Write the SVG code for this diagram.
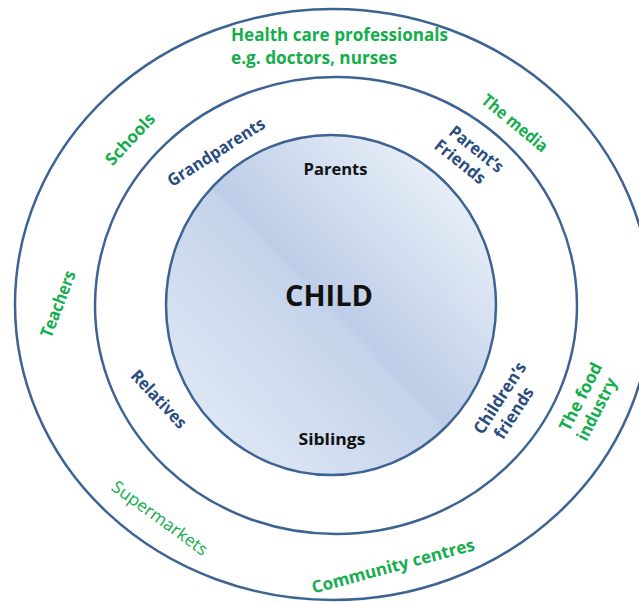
<svg xmlns="http://www.w3.org/2000/svg" width="639" height="604" viewBox="0 0 639 604">
  <defs>
    <linearGradient id="childFill" x1="0.15" y1="0.85" x2="0.85" y2="0.15">
      <stop offset="0" stop-color="#dce5f3"/>
      <stop offset="0.48" stop-color="#c4d3ea"/>
      <stop offset="0.5" stop-color="#bdcde7"/>
      <stop offset="1" stop-color="#e6edf7"/>
    </linearGradient>
    <style>
      .ring { fill: none; stroke: #3d6393; stroke-width: 2.5; }
      .t { font-family: "Open Sans", "Liberation Sans", sans-serif; font-weight: 700; }
      .r { font-weight: 400; }
      .g { fill: #14ae4c; font-size: 17px; }
      .b { fill: #2b4c7e; font-size: 17px; }
      .k { fill: #111111; font-size: 16px; }
      .c { text-anchor: middle; }
    </style>
  </defs>
  <rect width="639" height="604" fill="#ffffff"/>

  <g id="outer-ring">
    <ellipse class="ring" cx="333" cy="304.5" rx="318" ry="295.5"/>
  </g>
  <g id="middle-ring">
    <ellipse class="ring" cx="336" cy="305.5" rx="241" ry="228.5"/>
  </g>
  <g id="child">
    <ellipse cx="331" cy="305" rx="165" ry="170" fill="url(#childFill)" stroke="#3d6393" stroke-width="2.5"/>
    <text class="t c" x="329" y="306" font-size="29" fill="#111111" textLength="88" lengthAdjust="spacingAndGlyphs">CHILD</text>
  </g>

  <g id="connectors"></g>

  <g id="inner-labels">
    <text id="parents" class="t k c" x="335.5" y="175" textLength="64" lengthAdjust="spacingAndGlyphs">Parents</text>
    <text id="siblings" class="t k c" x="332" y="445" textLength="67" lengthAdjust="spacingAndGlyphs">Siblings</text>
  </g>

  <g id="middle-labels">
    <text id="grandparents" class="t b c" transform="translate(216,152) rotate(-32.5)" y="6" textLength="112" lengthAdjust="spacingAndGlyphs">Grandparents</text>
    <g id="parents-friends" transform="translate(468,155) rotate(38.5)">
      <text class="t b c" x="3" y="-4" textLength="64" lengthAdjust="spacingAndGlyphs">Parent’s</text>
      <text class="t b c" x="-2" y="16" textLength="60" lengthAdjust="spacingAndGlyphs">Friends</text>
    </g>
    <text id="relatives" class="t b c" transform="translate(159,399) rotate(47)" y="6" textLength="73" lengthAdjust="spacingAndGlyphs">Relatives</text>
    <g id="childrens-friends" transform="translate(507,405) rotate(-57)">
      <text class="t b c" x="2" y="-4" textLength="82" lengthAdjust="spacingAndGlyphs">Children’s</text>
      <text class="t b c" x="-3" y="16" textLength="58" lengthAdjust="spacingAndGlyphs">friends</text>
    </g>
  </g>

  <g id="outer-labels">
    <g id="health-care">
      <text class="t g" x="231" y="41" font-size="18" textLength="217" lengthAdjust="spacingAndGlyphs">Health care professionals</text>
      <text class="t g" x="231" y="64" font-size="18" textLength="166" lengthAdjust="spacingAndGlyphs">e.g. doctors, nurses</text>
    </g>
    <text id="schools" class="t g c" transform="translate(130,139) rotate(-47)" y="6" textLength="64" lengthAdjust="spacingAndGlyphs">Schools</text>
    <text id="media" class="t g c" transform="translate(515,123) rotate(39.6)" y="6" textLength="80" lengthAdjust="spacingAndGlyphs">The media</text>
    <text id="teachers" class="t g c" transform="translate(58,304) rotate(-69)" y="6" textLength="70" lengthAdjust="spacingAndGlyphs">Teachers</text>
    <g id="food-industry" transform="translate(589,402) rotate(-63)">
      <text class="t g c" x="1" y="-4" textLength="74" lengthAdjust="spacingAndGlyphs">The food</text>
      <text class="t g c" x="-3" y="16" textLength="68" lengthAdjust="spacingAndGlyphs">industry</text>
    </g>
    <text id="supermarkets" class="t r g c" transform="translate(160,518) rotate(36)" y="6" textLength="114" lengthAdjust="spacingAndGlyphs">Supermarkets</text>
    <text id="community" class="t g c" transform="translate(393,566) rotate(-15)" y="6" textLength="168" lengthAdjust="spacingAndGlyphs">Community centres</text>
  </g>
</svg>
